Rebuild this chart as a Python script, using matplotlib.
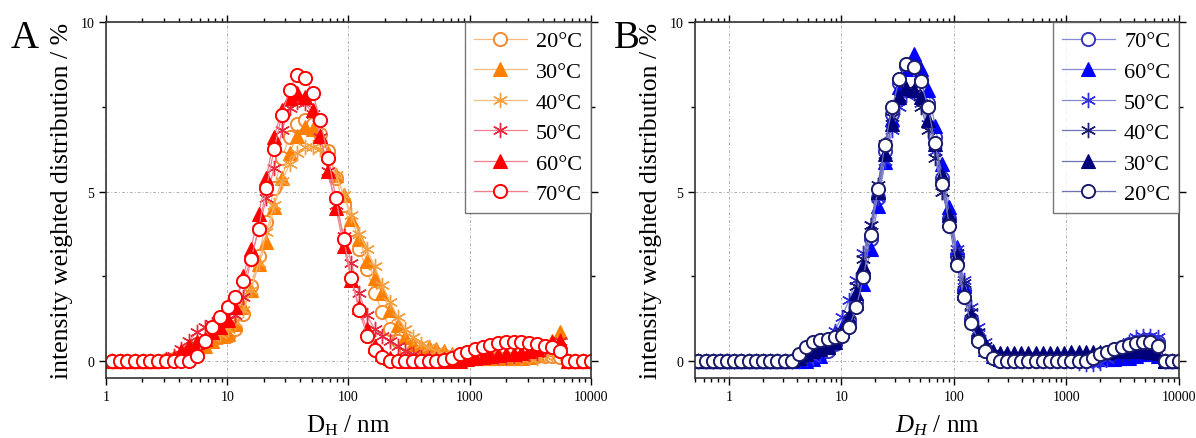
import matplotlib
matplotlib.use("Agg")
import matplotlib.pyplot as plt
from matplotlib.ticker import FixedLocator, LogLocator, MultipleLocator, NullFormatter

plt.rcParams["font.family"] = ["Liberation Serif", "DejaVu Serif"]
plt.rcParams["mathtext.fontset"] = "custom"
plt.rcParams["mathtext.rm"] = "Liberation Serif"
plt.rcParams["mathtext.it"] = "Liberation Serif:italic"

# size classes (nm)
d_h = [0.4, 0.4632, 0.5365, 0.6213, 0.7195, 0.8332, 0.9649, 1.117, 1.294, 1.499,
       1.736, 2.010, 2.328, 2.696, 3.122, 3.615, 4.187, 4.849, 5.615, 6.503,
       7.531, 8.721, 10.10, 11.70, 13.54, 15.69, 18.17, 21.04, 24.36, 28.21,
       32.67, 37.84, 43.82, 50.75, 58.77, 68.06, 78.82, 91.28, 105.7, 122.4,
       141.8, 164.2, 190.1, 220.2, 255.0, 295.3, 342.0, 396.1, 458.7, 531.2,
       615.1, 712.4, 825.0, 955.4, 1106, 1281, 1484, 1718, 1990, 2305,
       2669, 3091, 3580, 4145, 4801, 5560, 6439, 7456, 8635, 10000]

# panel A
a20 = [0, 0, 0, 0, 0, 0, 0, 0, 0, 0,
       0, 0, 0, 0, 0.02, 0.05, 0.12, 0.25, 0.4, 0.55,
       0.65, 0.7, 0.75, 0.95, 1.4, 2.2, 3.1, 4.1, 5.1, 6.0,
       6.6, 7.0, 7.1, 7.0, 6.7, 6.2, 5.4, 4.6, 3.9, 3.3,
       2.7, 2.0, 1.45, 0.95, 0.6, 0.4, 0.3, 0.25, 0.2, 0.18,
       0.15, 0.12, 0.1, 0.1, 0.1, 0.1, 0.1, 0.1, 0.1, 0.1,
       0.1, 0.12, 0.15, 0.15, 0.15, 0.12, 0, 0, 0, 0]
a30 = [0, 0, 0, 0, 0, 0, 0, 0, 0, 0,
       0, 0, 0, 0, 0.02, 0.05, 0.12, 0.2, 0.3, 0.45,
       0.6, 0.75, 0.8, 1.1, 1.6, 2.1, 2.85, 3.5, 4.55, 5.4,
       6.15, 6.65, 6.9, 6.85, 6.65, 6.15, 5.5, 4.9, 4.2, 3.6,
       2.95, 2.45, 2.0, 1.5, 1.05, 0.7, 0.5, 0.42, 0.4, 0.35,
       0.3, 0.2, 0.12, 0.1, 0.08, 0.08, 0.08, 0.08, 0.08, 0.08,
       0.1, 0.12, 0.2, 0.35, 0.6, 0.85, 0, 0, 0, 0]
a40 = [0, 0, 0, 0, 0, 0, 0, 0, 0, 0,
       0, 0, 0, 0, 0.02, 0.08, 0.2, 0.35, 0.5, 0.6,
       0.7, 0.8, 0.95, 1.15, 1.5, 2.1, 2.9, 3.8, 4.6, 5.3,
       5.8, 6.15, 6.3, 6.3, 6.25, 6.0, 5.5, 4.9, 4.3, 3.75,
       3.3, 2.8, 2.25, 1.75, 1.3, 0.95, 0.7, 0.5, 0.4, 0.3,
       0.2, 0.15, 0.1, 0.08, 0.08, 0.08, 0.08, 0.08, 0.08, 0.08,
       0.08, 0.08, 0.1, 0.15, 0.2, 0.25, 0, 0, 0, 0]
a50 = [0, 0, 0, 0, 0, 0, 0, 0, 0, 0,
       0, 0, 0, 0, 0.05, 0.15, 0.35, 0.6, 0.85, 1.0,
       1.1, 1.15, 1.2, 1.35, 1.9, 3.0, 3.9, 4.8, 5.7, 6.8,
       7.45, 7.65, 7.6, 7.3, 6.6, 5.6, 4.6, 3.7, 2.9, 2.0,
       1.35, 0.95, 0.75, 0.6, 0.45, 0.3, 0.2, 0.12, 0.08, 0.05,
       0.05, 0.08, 0.1, 0.12, 0.12, 0.12, 0.12, 0.12, 0.12, 0.15,
       0.18, 0.2, 0.25, 0.35, 0.5, 0.6, 0, 0, 0, 0]
a60 = [0, 0, 0, 0, 0, 0, 0, 0, 0, 0,
       0, 0, 0, 0, 0.02, 0.1, 0.3, 0.45, 0.55, 0.65,
       0.85, 1.0, 1.2, 1.6, 2.5, 3.3, 4.35, 5.4, 6.6, 7.4,
       7.75, 7.9, 7.8, 7.4, 6.65, 5.6, 4.5, 3.4, 2.4, 1.6,
       0.95, 0.45, 0.2, 0.08, 0.02, 0, 0, 0, 0, 0,
       0, 0, 0, 0.05, 0.1, 0.12, 0.15, 0.18, 0.2, 0.22,
       0.25, 0.3, 0.35, 0.45, 0.55, 0.6, 0, 0, 0, 0]
a70 = [0, 0, 0, 0, 0, 0, 0, 0, 0, 0,
       0, 0, 0, 0, 0, 0, 0, 0, 0.15, 0.6,
       1.0, 1.3, 1.6, 1.9, 2.35, 3.0, 3.9, 5.1, 6.25, 7.25,
       8.0, 8.45, 8.35, 7.9, 7.1, 6.0, 4.8, 3.6, 2.45, 1.5,
       0.75, 0.33, 0.12, 0, 0, 0, 0, 0, 0, 0,
       0.02, 0.1, 0.2, 0.28, 0.35, 0.42, 0.48, 0.52, 0.55, 0.56,
       0.55, 0.54, 0.5, 0.45, 0.4, 0.3, 0, 0, 0, 0]

# panel B
b20 = [0, 0, 0, 0, 0, 0, 0, 0, 0, 0,
       0, 0, 0, 0, 0, 0, 0.2, 0.4, 0.55, 0.63,
       0.65, 0.7, 0.75, 1.0, 1.58, 2.47, 3.72, 5.07, 6.38, 7.48,
       8.32, 8.76, 8.66, 8.27, 7.48, 6.43, 5.22, 3.99, 2.84, 1.88,
       1.12, 0.6, 0.3, 0.1, 0, 0, 0, 0, 0, 0,
       0, 0, 0, 0, 0, 0, 0, 0.1, 0.2, 0.27,
       0.35, 0.42, 0.48, 0.52, 0.55, 0.55, 0.45, 0, 0, 0]
b30 = [0, 0, 0, 0, 0, 0, 0, 0, 0, 0,
       0, 0, 0, 0, 0, 0.02, 0.1, 0.2, 0.3, 0.35,
       0.4, 0.55, 0.9, 1.3, 2.0, 2.8, 3.9, 5.0, 6.1, 7.0,
       7.8, 8.05, 8.0, 7.8, 7.1, 6.4, 5.5, 4.3, 3.1, 2.0,
       1.35, 0.85, 0.5, 0.3, 0.25, 0.25, 0.25, 0.25, 0.25, 0.25,
       0.25, 0.25, 0.25, 0.25, 0.28, 0.28, 0.28, 0.28, 0.28, 0.28,
       0.3, 0.3, 0.3, 0.3, 0.3, 0.28, 0.25, 0, 0, 0]
b40 = [0, 0, 0, 0, 0, 0, 0, 0, 0, 0,
       0, 0, 0, 0, 0, 0, 0.05, 0.15, 0.3, 0.35,
       0.45, 0.6, 0.9, 1.4, 2.2, 3.0, 4.0, 5.2, 6.4, 7.2,
       7.8, 8.0, 7.9, 7.5, 6.8, 6.0, 5.0, 4.1, 3.2, 2.3,
       1.45, 0.85, 0.45, 0.25, 0.2, 0.18, 0.18, 0.18, 0.18, 0.18,
       0.18, 0.18, 0.18, 0.18, 0.18, 0.2, 0.2, 0.2, 0.2, 0.2,
       0.22, 0.22, 0.25, 0.3, 0.3, 0.3, 0.25, 0, 0, 0]
b50 = [0, 0, 0, 0, 0, 0, 0, 0, 0, 0,
       0, 0, 0, 0, 0, 0, 0, 0.05, 0.1, 0.2,
       0.5, 0.9, 1.3, 1.8, 2.4, 3.2, 4.0, 4.8, 5.9, 6.8,
       7.5, 7.85, 7.9, 7.6, 7.0, 6.2, 5.0, 4.2, 3.3, 2.4,
       1.6, 1.0, 0.55, 0.2, 0.05, 0, 0, 0, 0, 0,
       0, 0, 0, 0, 0, -0.05, -0.1, -0.1, -0.05, 0.05,
       0.2, 0.4, 0.55, 0.7, 0.75, 0.75, 0.7, 0, 0, 0]
b60 = [0, 0, 0, 0, 0, 0, 0, 0, 0, 0,
       0, 0, 0, 0, 0, 0, 0, 0, 0.05, 0.15,
       0.4, 0.85, 1.0, 1.2, 1.7, 2.27, 3.3, 4.58, 5.86, 7.14,
       8.07, 8.6, 9.06, 8.6, 8.0, 6.94, 5.8, 4.54, 3.36, 2.22,
       1.34, 0.75, 0.35, 0.15, 0.05, 0.05, 0.05, 0.05, 0.05, 0.05,
       0.05, 0.05, 0.05, 0.05, 0.05, 0.05, 0.05, 0.05, 0.05, 0.05,
       0.05, 0.08, 0.1, 0.15, 0.2, 0.2, 0.15, 0, 0, 0]
b70 = [0, 0, 0, 0, 0, 0, 0, 0, 0, 0,
       0, 0, 0, 0, 0, 0, 0.02, 0.08, 0.15, 0.2,
       0.3, 0.5, 0.8, 1.2, 1.75, 2.55, 3.6, 4.8, 6.2, 7.3,
       8.2, 8.7, 8.75, 8.3, 7.6, 6.6, 5.4, 4.2, 3.1, 2.1,
       1.25, 0.7, 0.35, 0.12, 0, 0, 0, 0, 0, 0,
       0, 0, 0, 0, 0, 0, 0, 0.05, 0.12, 0.2,
       0.3, 0.4, 0.5, 0.55, 0.6, 0.62, 0.55, 0, 0, 0]

circle = "o"
tri = "^"
star = (6, 2, 0)

# label, data, marker, marker colour, line colour, filled
series_a = [
    ("20°C", a20, circle, "#F08A30", "#F6BC80", False),
    ("30°C", a30, tri, "#FF8000", "#F6BC80", True),
    ("40°C", a40, star, "#F5A040", "#F6BC80", True),
    ("50°C", a50, star, "#E8283C", "#F08090", True),
    ("60°C", a60, tri, "#FF0000", "#F08090", True),
    ("70°C", a70, circle, "#FF0000", "#F08090", False),
]
series_b = [
    ("70°C", b70, circle, "#3535C0", "#8888D8", False),
    ("60°C", b60, tri, "#0000FF", "#8888D8", True),
    ("50°C", b50, star, "#3030E0", "#8888D8", True),
    ("40°C", b40, star, "#1C1C70", "#7070B8", True),
    ("30°C", b30, tri, "#00007A", "#7070B8", True),
    ("20°C", b20, circle, "#1A1A6A", "#7070B8", False),
]


def panel(ax, series, xmin, xlabel):
    for label, y, mk, mc, lc, filled in series:
        xs = [x for x in d_h if x >= xmin]
        ys = y[len(d_h) - len(xs):]
        if mk == star:
            ax.plot(xs, ys, color=lc, lw=0.9, marker=mk, ms=11, mec=mc, mew=1.0,
                    label=label)
        elif filled:
            ax.plot(xs, ys, color=lc, lw=0.9, marker=mk, ms=10, mec=mc, mfc=mc,
                    mew=0.8, label=label)
        else:
            ax.plot(xs, ys, color=lc, lw=0.9, marker=mk, ms=9.5, mec=mc, mfc="white",
                    mew=1.4, label=label)
    ax.set_xscale("log")
    ax.set_xlim(xmin, 10000)
    ax.set_ylim(-0.5, 10)
    ax.xaxis.set_major_locator(FixedLocator([1, 10, 100, 1000, 10000]))
    ax.set_xticklabels(["1", "10", "100", "1000", "10000"])
    ax.xaxis.set_minor_locator(LogLocator(base=10, subs=range(2, 10), numticks=20))
    ax.xaxis.set_minor_formatter(NullFormatter())
    ax.yaxis.set_major_locator(MultipleLocator(5))
    ax.yaxis.set_minor_locator(MultipleLocator(2.5))
    ax.grid(True, which="major", color="#B0B0B0", lw=0.7, ls=(0, (3, 2, 1, 2)))
    ax.tick_params(which="both", direction="out", labelsize=10, width=1.0)
    ax.tick_params(which="major", length=5)
    ax.tick_params(which="minor", length=3)
    ax.tick_params(which="both", top=True, right=True)
    for s in ax.spines.values():
        s.set_linewidth(1.2)
        s.set_color("#333333")
    ax.set_xlabel(xlabel, fontsize=18, labelpad=7)
    ax.set_ylabel("intensity weighted distribution / %", fontsize=18.5, labelpad=5)
    leg = ax.legend(loc="upper right", borderaxespad=0, fontsize=16, frameon=True,
                    fancybox=False, edgecolor="#555555", handlelength=2.4,
                    handletextpad=0.4, labelspacing=0.45, borderpad=0.4)
    leg.get_frame().set_linewidth(1.0)
    ax.set_axisbelow(True)


fig = plt.figure(figsize=(11.96, 4.39), dpi=100)
ax_a = fig.add_axes([0.0886, 0.1367, 0.4055, 0.8109])
ax_b = fig.add_axes([0.5811, 0.1367, 0.4047, 0.8109])

panel(ax_a, series_a, 1, "D$_\\mathrm{H}$ / nm")
panel(ax_b, series_b, 0.5, "$D_H$ / nm")

fig.text(0.009, 0.955, "A", fontsize=28, va="top", ha="left")
fig.text(0.513, 0.955, "B", fontsize=28, va="top", ha="left")

fig.savefig("out.png", dpi=100)
